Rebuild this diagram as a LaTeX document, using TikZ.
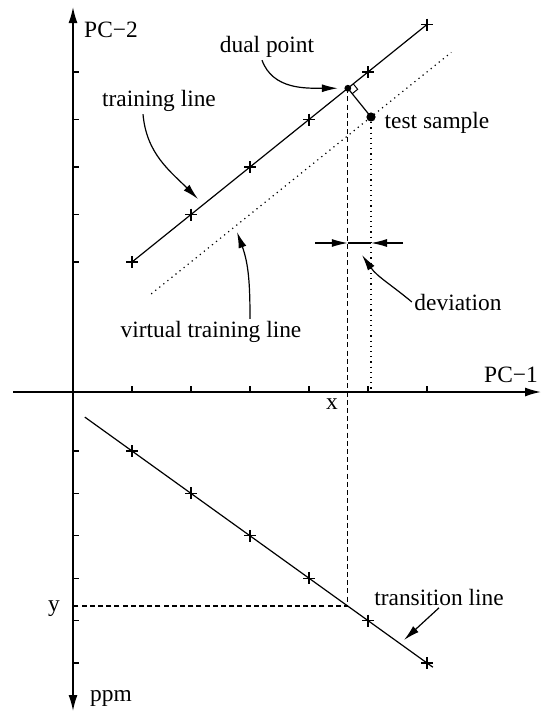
\documentclass[tikz,border=0pt]{standalone}
\usepackage{fontspec}
\setmainfont{Liberation Serif}
\usetikzlibrary{arrows.meta, calc, intersections}

\begin{document}
\begin{tikzpicture}[
        x=0.5pt, y=-0.5pt,
        font=\fontsize{11.7}{14}\selectfont,
        line width=0.6pt,
        every node/.style={inner sep=1pt},
        axis/.style={line width=0.8pt},
        tip/.style={-{Latex[length=8pt, width=4pt]}},
        plusmark/.style={minimum size=6pt, inner sep=0pt,
                         path picture={\draw[line width=0.6pt]
                            (path picture bounding box.north) -- (path picture bounding box.south)
                            (path picture bounding box.west) -- (path picture bounding box.east);}},
        blob/.style={circle, fill=black, inner sep=0pt},
        dashline/.style={dash pattern=on 2.5pt off 1.6pt},
        dotline/.style={dotted}
    ]
        \useasboundingbox (0,0) rectangle (542,712);

        % axes
        \coordinate (o) at (73,392);
        \coordinate (ytop) at (73,7);
        \coordinate (ybot) at (73,711);
        \coordinate (xleft) at (13,392);
        \coordinate (xright) at (541,392);
        \draw[axis, {Latex[length=8pt, width=4.5pt]}-{Latex[length=8pt, width=4.5pt]}] (ybot) -- (ytop);
        \draw[axis, -{Latex[length=8pt, width=4.5pt]}] (xleft) -- (xright);

        % markers
        \foreach \i in {1,...,6} {
            \node[plusmark] (t\i) at ({73+59*\i}, {309.5-47.5*\i}) {};
            \node[plusmark] (b\i) at ({73+59*\i}, {408.6+42.4*\i}) {};
            \draw (o -| t\i) -- ++(0,-6);
            \draw (b\i -| o) -- ++(6,0);
        }
        \foreach \i in {1,...,5}
            \draw (t\i -| o) -- ++(6,0);

        % training line and sample
        \draw (t1.center) -- (t6.center);
        \node[blob, minimum size=4.6pt] (ts) at (371,117) {};
        \coordinate (dp) at ($(t1.center)!(ts.center)!(t6.center)$);
        \node[blob, minimum size=3.4pt] (dpt) at (dp) {};
        \draw (dp) -- (ts.center);
        \coordinate (ra1) at ($(dp)!3.5pt!(t6.center)$);
        \coordinate (ra2) at ($(dp)!3.5pt!(ts.center)$);
        \draw[line width=0.5pt] (ra1) -- ($(ra1)+(ra2)-(dp)$) -- (ra2);

        % virtual training line
        \coordinate (v1) at ($(ts.center)-0.745*(295,-237.5)$);
        \coordinate (v2) at ($(ts.center)+0.272*(295,-237.5)$);
        \draw[dotline] (v1) -- (v2);
        \draw[dotline] (ts.center) -- (ts |- o);

        % transition line
        \draw[name path=trans] ($(b1.center)!-0.16!(b6.center)$) -- ($(b1.center)!1.02!(b6.center)$);
        \path[name path=vert] (dp) -- ++(0,600);
        \path[name intersections={of=vert and trans, by=yp}];
        \draw[dashline] (dp) -- (yp) -- (yp -| o);

        % deviation
        \coordinate (dl) at (315,243);
        \coordinate (dr) at (403,243);
        \draw[tip] (dl) -- (dp |- dl);
        \draw[tip] (dr) -- (ts |- dl);
        \draw (dp |- dl) -- (ts |- dl);

        % labels
        \node (pc2) at (111,30) {PC−2};
        \node (pc1) at (511,375) {PC−1};
        \node (xlbl) at (332,404) {x};
        \node (ylbl) at (54,609) {y};
        \node (ppm) at (111,698) {ppm};
        \node (trl) at (159,101) {training line};
        \node (dpl) at (267,47) {dual point};
        \node (tsl) at (437,123) {test sample};
        \node (vtl) at (211,332) {virtual training line};
        \node (dvl) at (458,302) {deviation};
        \node (tnl) at (439,597) {transition line};

        % pointers
        \coordinate (trp) at (198,199);
        \coordinate (vtp) at (237,232);
        \coordinate (dvp) at (362,255);
        \coordinate (tnp) at (404,640);
        \draw[tip] ([xshift=-8pt]trl.south) to[out=-85, in=135] (trp);
        \draw[tip] ([xshift=-2.5pt]dpl.south) to[out=-70, in=180] ([xshift=-3pt]dpt.west);
        \draw[tip] ([xshift=19.5pt]vtl.north) to[out=90, in=-70] (vtp);
        \draw[tip] (dvl.west) to[out=140, in=-55] (dvp);
        \draw[tip] (tnl.south) -- (tnp);
    \end{tikzpicture}
\end{document}
